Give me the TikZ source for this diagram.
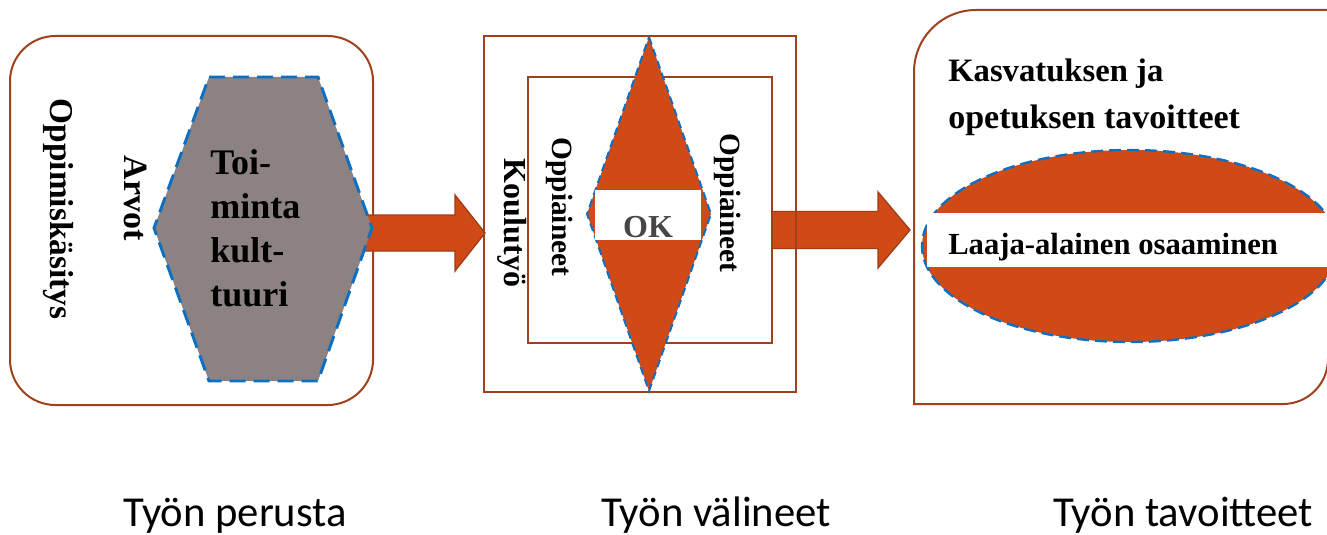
\documentclass[tikz,border=0pt]{standalone}
\usepackage{fontspec}
\setmainfont{Liberation Serif}
\newfontfamily\calib{Carlito}
\usetikzlibrary{calc}
\definecolor{brd}{HTML}{A0401C}
\definecolor{org}{HTML}{D04A17}
\definecolor{orgd}{HTML}{A33B15}
\definecolor{blu}{HTML}{0E6FC1}
\definecolor{gry}{HTML}{8C8282}
\definecolor{okg}{HTML}{4A4545}
\tikzset{
  panel/.style={draw=brd, line width=1.5pt},
  bigarrow/.style={fill=org, draw=orgd, line width=1pt},
  bluedash/.style={draw=blu, line width=2.2pt, dash pattern=on 12pt off 6pt},
  lbl/.style={inner sep=0pt, font=\bfseries\fontsize{24}{28}\selectfont},
  rlbl/.style={lbl, rotate=-90},
  caption/.style={inner sep=0pt, anchor=base, font=\calib\fontsize{32}{36}\selectfont},
}
\begin{document}
\begin{tikzpicture}[x=0.75pt,y=-0.75pt]
\useasboundingbox (0,0) rectangle (1327,535);
% ---------- panel 1 ----------
\draw[panel, rounded corners=34pt] (10,36) rectangle (373,405);
\coordinate (a1s) at (365,233);
\coordinate (a1t) at (485,233);
\draw[bigarrow] ($(a1s)+(0,-18)$) -- ($(a1t)+(-30,-18)$) -- ($(a1t)+(-30,-38)$) -- (a1t)
  -- ($(a1t)+(-30,38)$) -- ($(a1t)+(-30,18)$) -- ($(a1s)+(0,18)$) -- cycle;
\draw[bluedash, fill=gry] (209,77) -- (318,77) -- (372,228) -- (318,381) -- (209,381) -- (154,228) -- cycle;
\node[inner sep=0pt, anchor=north west, align=left, font=\bfseries\fontsize{27}{33}\selectfont] (toim) at (210,149) {Toi-\\minta\\kult-\\tuuri};
\node[rlbl, font=\bfseries\fontsize{25}{28}\selectfont] (opk) at (58,209) {Oppimiskäsitys};
\node[rlbl, font=\bfseries\fontsize{25.5}{28}\selectfont] (arv) at (136,198) {Arvot};
% ---------- panel 2 ----------
\coordinate (a2s) at (772,230);
\coordinate (a2t) at (910,230);
\draw[bigarrow] ($(a2s)+(0,-18.5)$) -- ($(a2t)+(-32,-18.5)$) -- ($(a2t)+(-32,-38)$) -- (a2t)
  -- ($(a2t)+(-32,38)$) -- ($(a2t)+(-32,18.5)$) -- ($(a2s)+(0,18.5)$) -- cycle;
\draw[panel] (484,36) rectangle (796,392);
\draw[panel] (528,77) rectangle (772,343);
\draw[fill=org, draw=blu, line width=1.5pt, dash pattern=on 6pt off 3.5pt] (649,37) -- (711,214) -- (649,391) -- (587,214) -- cycle;
\fill[white] (595,190) rectangle (701,240);
\node[inner sep=0pt, anchor=base, text=okg, font=\bfseries\fontsize{24}{28}\selectfont] (ok) at (648,237) {OK};
\node[rlbl] (kou) at (512,223) {Koulutyö};
\node[rlbl, font=\bfseries\fontsize{22}{26}\selectfont] (opl) at (560,207) {Oppiaineet};
\node[rlbl, font=\bfseries\fontsize{22}{26}\selectfont] (opr) at (728,203) {Oppiaineet};
% ---------- panel 3 ----------
\draw[panel] (914,404) -- (914,72) arc[start angle=180, end angle=270, radius=62] -- (1328,10)
  -- (1328,359) arc[start angle=0, end angle=90, radius=45] -- cycle;
\draw[fill=org, bluedash, line width=1.8pt, dash pattern=on 9pt off 4.5pt] (1130,246) ellipse[x radius=208, y radius=96];
\fill[white] (927,213) rectangle (1330,267);
\node[lbl, anchor=base west, font=\bfseries\fontsize{24.5}{28}\selectfont] (kas) at (948,82) {Kasvatuksen ja};
\node[lbl, anchor=base west, font=\bfseries\fontsize{25.5}{28}\selectfont] (ope) at (948,128) {opetuksen tavoitteet};
\node[lbl, anchor=base west, font=\bfseries\fontsize{23}{28}\selectfont] (laa) at (948,254) {Laaja-alainen osaaminen};
% ---------- captions ----------
\node[caption] (c1) at (235,526) {Työn perusta};
\node[caption] (c2) at (716,526) {Työn välineet};
\node[caption] (c3) at (1183,526) {Työn tavoitteet};
\end{tikzpicture}
\end{document}
